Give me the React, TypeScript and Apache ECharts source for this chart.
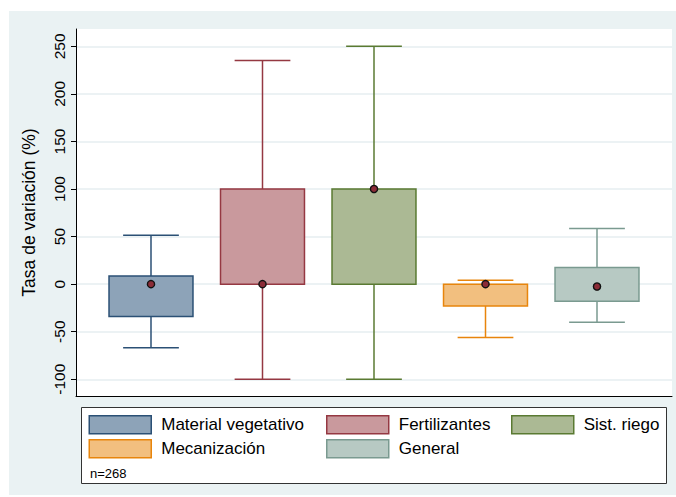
import React, { useEffect, useRef } from "react";
import * as echarts from "echarts";

const CATEGORIES = ["Material vegetativo", "Fertilizantes", "Sist. riego", "Mecanización", "General"];
const LOWER_WHISKER = [-67, -100, -100, -56, -40];
const Q1 = [-34, 0, 0, -23, -18];
const MEDIAN = [0, 0, 100, 0, -2.5];
const Q3 = [8.5, 100, 100, 0, 17.5];
const UPPER_WHISKER = [51.5, 235, 250, 4, 58.5];
const Y_TICKS = [-100, -50, 0, 50, 100, 150, 200, 250];
const FILLS = ["#8DA3B8", "#C9999D", "#ABB994", "#F2BF7F", "#B7C9C3"];
const BORDERS = ["#2B5075", "#953842", "#5A7A32", "#E8850C", "#7A9A90"];
const N_LABEL = "n=268";
const Y_TITLE = "Tasa de variación (%)";

const FONT = "'Liberation Sans', Arial, sans-serif";
const BG = "#EAF2F3";
const BOX_W = 0.753;
const CAP_W = 0.5;

const LEGEND_POS = [
  { left: 88.5, top: 415 },
  { left: 326, top: 415 },
  { left: 511, top: 415 },
  { left: 88.5, top: 439 },
  { left: 326, top: 439 },
];

export default function App() {
  const ref = useRef<HTMLDivElement>(null);
  useEffect(() => {
    if (!ref.current) return;
    const chart = echarts.init(ref.current, null, { renderer: "svg" });

    const renderItem = (params: any, api: any) => {
      const x = api.value(0);
      const lo = api.coord([x, api.value(1)]);
      const q1 = api.coord([x, api.value(2)]);
      const md = api.coord([x, api.value(3)]);
      const q3 = api.coord([x, api.value(4)]);
      const hi = api.coord([x, api.value(5)]);
      const bw = api.size([BOX_W, 0])[0];
      const cw = api.size([CAP_W, 0])[0];
      const i = params.seriesIndex;
      const stroke = BORDERS[i];
      const lineStyle = { stroke, lineWidth: 1.5 };
      return {
        type: "group",
        children: [
          { type: "line", shape: { x1: lo[0], y1: lo[1], x2: q1[0], y2: q1[1] }, style: lineStyle },
          { type: "line", shape: { x1: q3[0], y1: q3[1], x2: hi[0], y2: hi[1] }, style: lineStyle },
          { type: "line", shape: { x1: lo[0] - cw / 2, y1: lo[1], x2: lo[0] + cw / 2, y2: lo[1] }, style: lineStyle },
          { type: "line", shape: { x1: hi[0] - cw / 2, y1: hi[1], x2: hi[0] + cw / 2, y2: hi[1] }, style: lineStyle },
          {
            type: "rect",
            shape: { x: q3[0] - bw / 2, y: q3[1], width: bw, height: q1[1] - q3[1] },
            style: { fill: FILLS[i], stroke, lineWidth: 1.5 },
          },
          {
            type: "circle",
            shape: { cx: md[0], cy: md[1], r: 3.6 },
            style: { fill: "#8B2C37", stroke: "#111", lineWidth: 1.4 },
          },
        ],
      };
    };

    const series = CATEGORIES.map((name, i) => ({
      type: "custom",
      name,
      renderItem,
      encode: { x: 0, y: [1, 2, 3, 4, 5] },
      itemStyle: { color: FILLS[i], borderColor: BORDERS[i] },
      clip: false,
      data: [[i, LOWER_WHISKER[i], Q1[i], MEDIAN[i], Q3[i], UPPER_WHISKER[i]]],
    }));

    const legends = CATEGORIES.map((name, i) => ({
      show: true,
      left: LEGEND_POS[i].left,
      top: LEGEND_POS[i].top,
      padding: 0,
      itemWidth: 62,
      itemHeight: 18,
      selectedMode: false,
      textStyle: { fontSize: 17, color: "#000", fontFamily: FONT, padding: [0, 0, 0, 5] },
      data: [
        {
          name,
          icon: "rect",
          itemStyle: { color: FILLS[i], borderColor: BORDERS[i], borderWidth: 1.5 },
        },
      ],
    }));

    chart.setOption({
      animation: false,
      backgroundColor: "#fff",
      textStyle: { fontFamily: FONT },
      graphic: [
        { type: "rect", z: -10, silent: true, shape: { x: 9, y: 11, width: 667, height: 484 }, style: { fill: BG } },
        {
          type: "rect",
          z: -5,
          silent: true,
          shape: { x: 81.5, y: 407.5, width: 585, height: 76 },
          style: { fill: "#fff", stroke: "#333", lineWidth: 1 },
        },
        {
          type: "text",
          x: 90,
          y: 473,
          style: { text: N_LABEL, fontSize: 13, fontFamily: FONT, fill: "#000", verticalAlign: "middle" },
        },
      ],
      grid: {
        left: 76,
        top: 29,
        right: 4,
        bottom: 101,
        show: true,
        backgroundColor: "#fff",
        borderWidth: 0,
      },
      legend: legends,
      xAxis: {
        type: "value",
        min: -0.6726,
        max: 4.6726,
        axisLine: { show: true, onZero: false, lineStyle: { color: "#000", width: 1 } },
        axisTick: { show: false },
        axisLabel: { show: false },
        splitLine: { show: false },
      },
      yAxis: {
        type: "value",
        min: -117.6,
        max: 268.2,
        name: Y_TITLE,
        nameLocation: "middle",
        nameRotate: 90,
        nameGap: 38,
        nameTextStyle: { fontSize: 17.5, color: "#000", fontFamily: FONT },
        axisLine: { show: true, onZero: false, lineStyle: { color: "#000", width: 1 } },
        axisTick: { show: true, length: 5, lineStyle: { color: "#000" }, customValues: Y_TICKS },
        axisLabel: {
          rotate: 90,
          fontSize: 15.5,
          color: "#000",
          fontFamily: FONT,
          margin: 9,
          customValues: Y_TICKS,
        },
        splitLine: { show: true, lineStyle: { color: "#E6EEF1", width: 1.5 } },
      },
      series,
    });
    return () => chart.dispose();
  }, []);
  return <div ref={ref} style={{ position: "fixed", left: 0, top: 0, width: 676, height: 497 }} />;
}
